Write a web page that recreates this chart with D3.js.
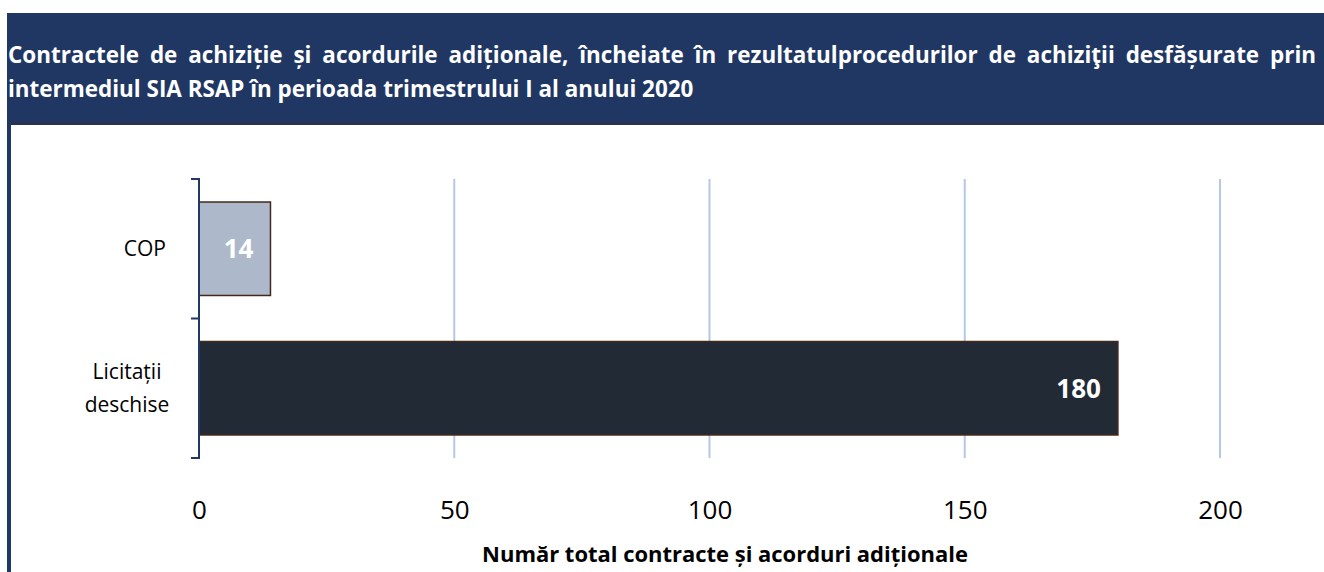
<!DOCTYPE html>
<html>
<head>
<meta charset="utf-8">
<script src="https://cdn.jsdelivr.net/npm/d3@7"></script>
<style>
  body { margin: 0; background: #fff; }
  svg { display: block; font-family: "Open Sans", "Noto Sans", sans-serif; }
</style>
</head>
<body>
<div id="chart"></div>
<script>
const width = 1324,
  height = 572;

const titleLine1 = "Contractele de achiziție și acordurile adiționale, încheiate în rezultatulprocedurilor de achiziţii desfășurate prin";
const titleLine2 = "intermediul SIA RSAP în perioada trimestrului I al anului 2020";
const categories = ["COP", "Licitații deschise"];
const categoryLines = [["COP"], ["Licitații", "deschise"]];
const values = [14, 180];
const xTicks = [0, 50, 100, 150, 200];
const axisTitle = "Număr total contracte și acorduri adiționale";
const barColors = ["#adb9ca", "#222a35"];

const svg = d3
  .select("#chart")
  .append("svg")
  .attr("width", width)
  .attr("height", height);

// header band
svg.append("rect")
  .attr("x", 7).attr("y", 13)
  .attr("width", width - 7).attr("height", 111)
  .attr("fill", "#213763");
svg.append("line")
  .attr("x1", 7).attr("x2", width)
  .attr("y1", 123.5).attr("y2", 123.5)
  .attr("stroke", "#2a3152").attr("stroke-width", 3);
svg.append("line")
  .attr("x1", 9).attr("x2", 9)
  .attr("y1", 13).attr("y2", height)
  .attr("stroke", "#213763").attr("stroke-width", 4);

// fit a text element to a target width by changing its font size
function fitWidth(sel, target) {
  const fs = parseFloat(sel.attr("font-size"));
  const w = sel.node().getComputedTextLength();
  sel.attr("font-size", fs * target / w);
  return fs * target / w;
}

const t2 = svg.append("text")
  .attr("x", 8).attr("y", 97)
  .attr("fill", "#fff").attr("font-weight", "bold")
  .attr("font-size", 18)
  .text(titleLine2);
const titleSize = fitWidth(t2, 686);

// justified first line
const words = titleLine1.split(" ");
const t1 = svg.append("g").attr("fill", "#fff").attr("font-weight", "bold").attr("font-size", titleSize);
const wordEls = words.map(w => t1.append("text").attr("y", 63).text(w));
const wordW = wordEls.map(e => e.node().getComputedTextLength());
const gap = (1316 - 8 - d3.sum(wordW)) / (words.length - 1);
let cx = 8;
wordEls.forEach((e, i) => { e.attr("x", cx); cx += wordW[i] + gap; });

// scales
const x = d3.scaleLinear().domain([0, 200]).range([199, 1220]);
const y = d3.scaleBand().domain(categories).range([179, 458]).paddingInner(0.33).paddingOuter(0.165);

// gridlines
svg.append("g")
  .selectAll("line")
  .data(xTicks.filter(d => d > 0))
  .join("line")
  .attr("x1", d => x(d)).attr("x2", d => x(d))
  .attr("y1", 179).attr("y2", 458)
  .attr("stroke", "#b4c7e7").attr("stroke-width", 2);

// bars
svg.append("g")
  .selectAll("rect")
  .data(values)
  .join("rect")
  .attr("x", x(0))
  .attr("y", (d, i) => y(categories[i]))
  .attr("width", d => x(d) - x(0))
  .attr("height", y.bandwidth())
  .attr("fill", (d, i) => barColors[i])
  .attr("stroke", "#43291a").attr("stroke-width", 1.5);

// value labels
svg.append("g")
  .selectAll("text")
  .data(values)
  .join("text")
  .attr("x", d => x(d) - 17)
  .attr("y", (d, i) => y(categories[i]) + y.bandwidth() / 2)
  .attr("dy", "0.36em")
  .attr("text-anchor", "end")
  .attr("fill", "#fff").attr("font-weight", "bold").attr("font-size", 26)
  .text(d => d);

// category axis
const yAxis = svg.append("g")
  .attr("transform", `translate(${x(0)},0)`)
  .call(d3.axisLeft(y).tickSizeOuter(0).tickValues([]));
yAxis.select(".domain").remove();
const bounds = [y.range()[0], y(categories[1]) - y.step() * y.paddingInner() / 2, y.range()[1]];
yAxis.append("path")
  .attr("d", `M-8,${bounds[0]}H0V${bounds[2]}H-8M-8,${bounds[1]}H0`)
  .attr("fill", "none").attr("stroke", "#203864").attr("stroke-width", 2);

const catLabels = svg.append("g").attr("font-size", 21).attr("fill", "#000");
categoryLines.forEach((lines, i) => {
  const cy = y(categories[i]) + y.bandwidth() / 2;
  const tx = lines.length > 1 ? 127 : 166;
  lines.forEach((ln, j) => {
    catLabels.append("text")
      .attr("x", tx)
      .attr("y", cy + (j - (lines.length - 1) / 2) * 33)
      .attr("dy", "0.35em")
      .attr("text-anchor", lines.length > 1 ? "middle" : "end")
      .text(ln);
  });
});

// x axis tick labels
const xAxis = svg.append("g")
  .attr("transform", "translate(0,458)")
  .call(d3.axisBottom(x).tickValues(xTicks).tickSize(0).tickPadding(43));
xAxis.select(".domain").remove();
xAxis.selectAll("text")
  .attr("font-family", "\"Open Sans\", sans-serif")
  .attr("font-size", 26).attr("fill", "#000");

const at = svg.append("text")
  .attr("x", 725).attr("y", 562)
  .attr("text-anchor", "middle")
  .attr("font-weight", "bold").attr("font-size", 18)
  .text(axisTitle);
fitWidth(at, 486);
</script>
</body>
</html>
